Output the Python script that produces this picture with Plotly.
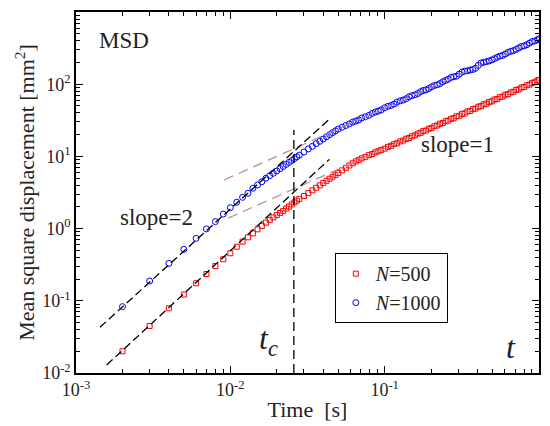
import plotly.graph_objects as go

# ---------------- data ----------------
time_s = [
    0.002, 0.003, 0.004, 0.005, 0.006, 0.007, 0.008, 0.009, 0.010, 0.011,
    0.012, 0.013, 0.014, 0.015, 0.016, 0.017, 0.018, 0.019, 0.020, 0.021,
    0.022, 0.023, 0.024, 0.025, 0.026, 0.027, 0.028, 0.030, 0.032, 0.034,
    0.036, 0.038, 0.040, 0.042, 0.044, 0.046, 0.048, 0.050, 0.053, 0.056,
    0.059, 0.062, 0.065, 0.068, 0.071, 0.075, 0.079, 0.083, 0.087, 0.091,
    0.095, 0.100, 0.105, 0.110, 0.115, 0.120, 0.126, 0.132, 0.138, 0.144,
    0.150, 0.157, 0.164, 0.171, 0.178, 0.185, 0.193, 0.201, 0.210, 0.219,
    0.228, 0.238, 0.248, 0.258, 0.269, 0.280, 0.292, 0.304, 0.317, 0.330,
    0.344, 0.358, 0.373, 0.388, 0.404, 0.421, 0.438, 0.456, 0.475, 0.495,
    0.515, 0.536, 0.558, 0.581, 0.605, 0.630, 0.656, 0.683, 0.711, 0.740,
    0.770, 0.801, 0.834, 0.868, 0.903, 0.940, 0.978, 1.000,
]

msd_n1000 = [
    0.083, 0.188, 0.330, 0.516, 0.734, 0.99, 1.25, 1.59, 1.95, 2.32,
    2.71, 3.09, 3.62, 4.02, 4.46, 4.98, 5.41, 5.84, 6.28, 6.76,
    7.25, 7.75, 8.26, 8.78, 9.31, 9.85, 10.4, 11.5, 12.7, 13.8,
    15.0, 16.2, 17.4, 18.7, 20.0, 21.3, 22.6, 23.9, 25.4, 26.8,
    28.2, 29.8, 30.9, 32.0, 34.0, 35.4, 37.0, 39.4, 41.2, 42.5,
    44.2, 47.2, 49.4, 50.8, 53.0, 56.3, 58.9, 60.4, 63.0, 67.0,
    69.5, 71.3, 74.3, 78.8, 81.9, 83.4, 86.8, 92.0, 96.0, 98.0,
    102.0, 108.2, 112.5, 117, 124, 127, 129, 138, 147, 152,
    153, 157, 160, 166, 182, 197, 201, 205, 210, 217,
    226, 236, 245, 250, 262, 276, 285, 292, 303, 318,
    333, 340, 352, 371, 390, 398, 412, 425,
]

msd_n500 = [
    0.020, 0.0448, 0.0787, 0.122, 0.175, 0.235, 0.303, 0.376, 0.455, 0.56,
    0.66, 0.757, 0.86, 0.977, 1.09, 1.21, 1.32, 1.43, 1.54, 1.65,
    1.76, 1.89, 2.02, 2.16, 2.30, 2.44, 2.58, 2.83, 3.10, 3.39,
    3.68, 3.97, 4.28, 4.59, 4.91, 5.23, 5.56, 5.90, 6.41, 6.94,
    7.48, 8.02, 8.52, 8.95, 9.40, 9.85, 10.40, 10.8, 11.40, 11.8,
    12.3, 12.8, 13.55, 14.0, 14.75, 15.2, 16.1, 16.6, 17.55, 18.0,
    19.0, 19.6, 20.7, 21.2, 22.4, 22.8, 24.2, 24.7, 26.2, 26.8,
    28.3, 29.0, 30.7, 31.3, 33.2, 33.8, 35.9, 36.5, 38.8, 39.4,
    41.9, 42.6, 45.2, 46.0, 48.8, 49.7, 52.6, 53.6, 56.8, 57.9,
    61.3, 62.5, 66.1, 67.4, 71.4, 72.8, 77.1, 78.6, 83.2, 84.9,
    89.8, 91.5, 96.8, 98.8, 104.3, 106.6, 112.5, 114.5,
]

# guide lines (end points)
slope2_n1000_t = [0.00143, 0.0438]
slope2_n1000_y = [0.043, 32.7]
slope2_n500_t = [0.00158, 0.0438]
slope2_n500_y = [0.0129, 9.1]
slope1_n1000_t = [0.0091, 1.0]
slope1_n1000_y = [4.71, 423]
slope1_n500_t = [0.0097, 1.0]
slope1_n500_y = [1.40, 114]
tc_t = [0.0258, 0.0258]
tc_y = [0.01, 23.2]

x_tickvals = [0.001, 0.01, 0.1, 1]
x_ticktext = ["10<sup>-3</sup>", "10<sup>-2</sup>", "10<sup>-1</sup>", "10<sup>0</sup>"]
y_tickvals = [0.01, 0.1, 1, 10, 100, 1000]
y_ticktext = ["10<sup>-2</sup>", "10<sup>-1</sup>", "10<sup>0</sup>",
              "10<sup>1</sup>", "10<sup>2</sup>", "10<sup>3</sup>"]

FONT = "Liberation Serif, Times New Roman, serif"
TXT = "#222222"
BROWN = "#bc8f8f"

fig = go.Figure()

fig.add_trace(go.Scatter(
    x=time_s, y=msd_n500, mode="markers", name="<i>N</i>=500",
    marker=dict(symbol="square-open", size=5, color="#ff0000",
                line=dict(width=1, color="#ff0000")),
))
fig.add_trace(go.Scatter(
    x=time_s, y=msd_n1000, mode="markers", name="<i>N</i>=1000",
    marker=dict(symbol="circle-open", size=6, color="#0000ff",
                line=dict(width=1, color="#0000ff")),
))

for tx, ty, col, dash in [
    (slope1_n1000_t, slope1_n1000_y, BROWN, "10px,6px"),
    (slope1_n500_t, slope1_n500_y, BROWN, "10px,6px"),
    (slope2_n1000_t, slope2_n1000_y, "black", "8px,4px"),
    (slope2_n500_t, slope2_n500_y, "black", "8px,4px"),
    (tc_t, tc_y, "black", "9px,5px"),
]:
    fig.add_trace(go.Scatter(x=tx, y=ty, mode="lines", showlegend=False,
                             hoverinfo="skip",
                             line=dict(color=col, width=1.3, dash=dash)))

minor_x = [m * 10 ** e for e in (-3, -2, -1) for m in range(2, 10)]
minor_y = [m * 10 ** e for e in (-2, -1, 0, 1, 2) for m in range(2, 10)]

axis_common = dict(
    showline=True, linecolor="black", linewidth=1.5, mirror="allticks",
    ticks="inside", ticklen=7, tickwidth=1.2, tickcolor="black",
    showgrid=False, zeroline=False, automargin=False,
    tickfont=dict(family=FONT, size=18, color=TXT),
)

fig.update_xaxes(
    type="log", range=[-3, 0], tickvals=x_tickvals, ticktext=x_ticktext,
    minor=dict(ticks="inside", ticklen=4, tickcolor="black", tickwidth=1,
               tickvals=minor_x, showgrid=False),
    title=dict(text="Time\u00a0 [s]", font=dict(family=FONT, size=22, color=TXT),
               standoff=2),
    **axis_common,
)
fig.update_yaxes(
    type="log", range=[-2, 3], tickvals=y_tickvals, ticktext=y_ticktext,
    minor=dict(ticks="inside", ticklen=4, tickcolor="black", tickwidth=1,
               tickvals=minor_y, showgrid=False),
    title=dict(text="Mean square displacement [mm<sup>2</sup>]",
               font=dict(family=FONT, size=22, color=TXT), standoff=1),
    **axis_common,
)

annots = [
    dict(text="MSD", x=0.104, y=0.922, size=23),
    dict(text="slope=2", x=0.174, y=0.432, size=23),
    dict(text="slope=1", x=0.8236, y=0.6316, size=23),
    dict(text="<i>t<sub>c</sub></i>", x=0.416, y=0.09, size=32),
    dict(text="<i>t</i>", x=0.94, y=0.072, size=32),
]
for a in annots:
    fig.add_annotation(text=a["text"], x=a["x"], y=a["y"], xref="paper",
                       yref="paper", showarrow=False,
                       xanchor="center", yanchor="middle",
                       font=dict(family=FONT, size=a["size"], color=TXT))

fig.update_layout(
    width=542, height=418,
    margin=dict(l=68, r=11, t=4, b=53),
    paper_bgcolor="white", plot_bgcolor="white",
    showlegend=True,
    legend=dict(x=0.559, y=0.332, xanchor="left", yanchor="top",
                bordercolor="black", borderwidth=1, bgcolor="white",
                font=dict(family=FONT, size=20, color=TXT),
                itemwidth=30, tracegroupgap=0),
)

fig.write_html("out.html")
